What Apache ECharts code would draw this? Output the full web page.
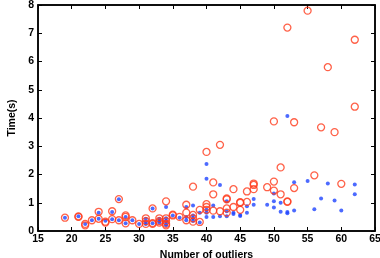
<!DOCTYPE html>
<html>
<head>
<meta charset="utf-8">
<script src="https://cdn.jsdelivr.net/npm/echarts@6/dist/echarts.min.js"></script>
<style>
html, body { margin: 0; padding: 0; background: #fff; }
#chart { width: 380px; height: 258px; }
</style>
</head>
<body>
<div id="chart"></div>
<script>
// red circles: number of outliers / time (s)
var redX = [19, 21, 21, 22, 22, 23, 24, 24, 25, 25, 26, 26, 27, 27, 28, 28, 28, 29, 30,
    31, 31, 31, 32, 32, 32, 33, 33, 33, 34, 34, 34, 34, 34, 35, 35, 36, 37, 37, 37,
    38, 38, 38, 38, 39, 39, 40, 40, 40, 40, 41, 41, 41, 42, 42, 43, 43, 43, 43,
    44, 44, 45, 45, 45, 46, 46, 47, 47, 47, 49, 50, 50, 50, 51, 51, 52, 52, 52,
    53, 53, 55, 56, 57, 58, 59, 60, 62, 62];
var redY = [0.47, 0.52, 0.5, 0.25, 0.2, 0.38, 0.68, 0.43, 0.33, 0.3, 0.7, 0.42, 1.13, 0.38, 0.55, 0.5, 0.27, 0.38, 0.25,
    0.45, 0.35, 0.25, 0.8, 0.28, 0.25, 0.45, 0.35, 0.3, 1.05, 0.45, 0.35, 0.25, 0.2, 0.58, 0.55, 0.5, 0.93, 0.65, 0.38,
    1.57, 0.57, 0.45, 0.33, 0.75, 0.32, 2.8, 0.95, 0.85, 0.75, 1.72, 1.3, 0.72, 3.05, 0.7, 1.15, 1.12, 0.8, 0.65,
    1.48, 0.85, 1.02, 1.0, 0.75, 1.4, 1.03, 1.68, 1.63, 1.48, 1.55, 3.88, 1.75, 1.43, 2.25, 1.3, 7.2, 1.05, 1.03,
    3.85, 1.52, 7.8, 1.97, 3.67, 5.8, 3.5, 1.67, 6.77, 4.4];

// blue dots
var blueX = [19, 21, 22, 23, 24, 24, 25, 26, 26, 27, 27, 28, 28, 29, 30,
    31, 31, 31, 32, 32, 33, 33, 33, 34, 34, 34, 34, 34, 35, 36, 37, 37, 37,
    38, 38, 38, 38, 39, 39, 40, 40, 40, 40, 40, 41, 41, 42, 42, 43, 43, 43,
    44, 44, 45, 45, 46, 46, 47, 47, 49, 50, 50, 50, 51, 51, 52, 52, 52,
    53, 53, 55, 56, 57, 58, 59, 60, 62, 62];
var blueY = [0.47, 0.52, 0.25, 0.38, 0.65, 0.43, 0.36, 0.67, 0.42, 1.12, 0.38, 0.5, 0.27, 0.38, 0.25,
    0.43, 0.32, 0.25, 0.8, 0.27, 0.43, 0.35, 0.3, 0.85, 0.45, 0.35, 0.25, 0.2, 0.55, 0.47, 0.85, 0.5, 0.38,
    0.9, 0.55, 0.45, 0.35, 0.65, 0.3, 2.37, 1.85, 0.75, 0.65, 0.5, 0.9, 0.5, 1.63, 0.52, 1.05, 0.7, 0.52,
    0.65, 0.6, 0.57, 0.53, 0.88, 0.65, 1.13, 0.93, 0.93, 1.33, 1.05, 0.83, 1.0, 0.68, 4.07, 0.67, 0.63,
    1.73, 0.73, 1.77, 0.77, 1.15, 1.68, 1.08, 0.73, 1.65, 1.3];

var xTicks = [15, 20, 25, 30, 35, 40, 45, 50, 55, 60, 65];
var yTicks = [0, 1, 2, 3, 4, 5, 6, 7, 8];

function pairs(xs, ys) {
    return xs.map(function (x, i) {
        return [x, ys[i]];
    });
}

var chart = echarts.init(document.getElementById('chart'));

var font = 'Liberation Sans';
var labelStyle = {fontFamily: font, fontWeight: 'bold', fontSize: 10.5, color: '#000'};

var option = {
    animation: false,
    grid: {
        left: 38, right: 5, top: 5, bottom: 27,
        outerBoundsMode: 'none',
        show: true,
        borderColor: '#000',
        borderWidth: 1.5
    },
    xAxis: [
        {
            type: 'value',
            min: xTicks[0],
            max: xTicks[xTicks.length - 1],
            interval: 5,
            name: 'Number of outliers',
            nameLocation: 'middle',
            nameGap: 17,
            nameTextStyle: labelStyle,
            axisLine: {show: true, onZero: false, lineStyle: {color: '#000', width: 1.5}},
            axisTick: {show: true, inside: true, length: 4, lineStyle: {color: '#000'}},
            axisLabel: Object.assign({margin: 3}, labelStyle),
            splitLine: {show: false}
        },
        {
            type: 'value',
            position: 'top',
            min: xTicks[0],
            max: xTicks[xTicks.length - 1],
            interval: 5,
            splitLine: {show: false},
            axisLabel: {show: false},
            axisTick: {show: true, inside: true, length: 4, lineStyle: {color: '#000'}},
            axisLine: {show: true, onZero: false, lineStyle: {color: '#000', width: 1.5}}
        }
    ],
    yAxis: [
        {
            type: 'value',
            min: yTicks[0],
            max: yTicks[yTicks.length - 1],
            interval: 1,
            name: 'Time(s)',
            nameLocation: 'middle',
            nameGap: 18,
            nameTextStyle: labelStyle,
            axisLine: {show: true, onZero: false, lineStyle: {color: '#000', width: 1.5}},
            axisTick: {show: true, inside: true, length: 4, lineStyle: {color: '#000'}},
            axisLabel: Object.assign({margin: 4}, labelStyle),
            splitLine: {show: false}
        },
        {
            type: 'value',
            position: 'right',
            min: yTicks[0],
            max: yTicks[yTicks.length - 1],
            interval: 1,
            splitLine: {show: false},
            axisLabel: {show: false},
            axisTick: {show: true, inside: true, length: 4, lineStyle: {color: '#000'}},
            axisLine: {show: true, onZero: false, lineStyle: {color: '#000', width: 1.5}}
        }
    ],
    series: [
        {
            type: 'scatter',
            data: pairs(blueX, blueY),
            symbol: 'circle',
            symbolSize: 4,
            itemStyle: {color: '#1f45ff'}
        },
        {
            type: 'scatter',
            data: pairs(redX, redY),
            symbol: 'circle',
            symbolSize: 7,
            itemStyle: {color: 'transparent', borderColor: '#ff3a1a', borderWidth: 1.3}
        }
    ]
};

chart.setOption(option);
</script>
</body>
</html>
